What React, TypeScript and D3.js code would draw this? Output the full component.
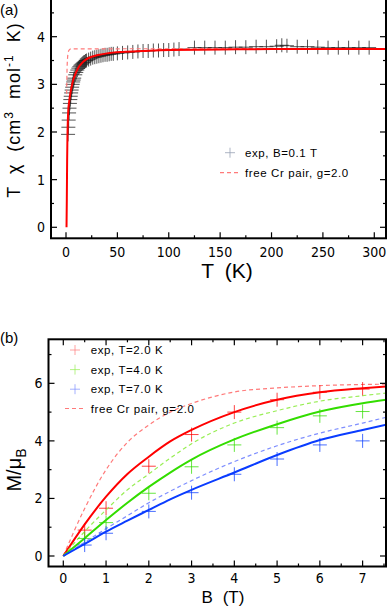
import React from "react";
import * as d3 from "d3";

// ---- panel (a): T*chi vs T ----
const expT = [2, 2.3, 2.6, 3, 3.4, 3.8, 4.2, 4.6, 5, 5.5, 6, 6.5, 7, 7.5, 8, 9, 10, 11, 12, 13, 14, 15, 16, 17, 18, 19, 20, 22, 24, 26, 28, 30, 32, 34, 36, 38, 40, 42, 44, 46, 50, 55, 60, 65, 70, 75, 80, 85, 90, 95, 100, 105, 110, 125, 135, 145, 155, 165, 175, 185, 195, 205, 210, 215, 225, 235, 245, 255, 265, 275, 285, 295];
const expChiT = [1.95, 2.1, 2.25, 2.4, 2.5, 2.6, 2.68, 2.75, 2.82, 2.88, 2.94, 3.0, 3.05, 3.09, 3.13, 3.2, 3.25, 3.3, 3.34, 3.37, 3.4, 3.42, 3.44, 3.46, 3.47, 3.49, 3.5, 3.52, 3.54, 3.56, 3.57, 3.58, 3.59, 3.6, 3.61, 3.62, 3.62, 3.63, 3.64, 3.64, 3.65, 3.66, 3.67, 3.68, 3.69, 3.7, 3.7, 3.71, 3.71, 3.72, 3.72, 3.73, 3.74, 3.77, 3.77, 3.77, 3.77, 3.78, 3.78, 3.79, 3.79, 3.8, 3.82, 3.81, 3.79, 3.79, 3.78, 3.77, 3.77, 3.77, 3.77, 3.77];
const fitT = [0.5, 0.8, 1.1, 1.4, 1.8, 2.2, 3, 4, 5, 6, 7, 8, 10, 12, 14, 17, 20, 25, 30, 40, 55, 75, 100, 150, 200, 312];
const fitChiT = [0, 0.6, 1.4, 1.9, 2.25, 2.45, 2.62, 2.78, 2.9, 3.0, 3.09, 3.15, 3.26, 3.35, 3.41, 3.48, 3.53, 3.58, 3.61, 3.65, 3.68, 3.7, 3.72, 3.73, 3.74, 3.74];
const freeT = [0.6, 1.0, 1.5, 2, 3, 5, 312];
const freeChiT = [2.8, 3.3, 3.55, 3.65, 3.72, 3.745, 3.75];

const aXTicks = [0, 50, 100, 150, 200, 250, 300];
const aXMinor = [25, 75, 125, 175, 225, 275];
const aYTicks = [0, 1, 2, 3, 4];
const aYMinor = [0.5, 1.5, 2.5, 3.5, 4.5];

// ---- panel (b): M vs B ----
const expB = [0.5, 1, 2, 3, 4, 5, 6, 7];
const expM2K = [0.9, 1.66, 3.12, 4.22, 5.0, 5.43, 5.69, 5.8];
const expM4K = [0.61, 1.16, 2.18, 3.1, 3.86, 4.46, 4.87, 5.02];
const expM7K = [0.38, 0.79, 1.55, 2.2, 2.84, 3.37, 3.86, 4.0];

const curveB = [0, 0.5, 1, 1.5, 2, 2.5, 3, 4, 5, 6, 7, 7.55];
const fitM2K = [0, 1.1, 2.06, 2.85, 3.45, 3.98, 4.38, 5.0, 5.43, 5.69, 5.83, 5.89];
const fitM4K = [0, 0.62, 1.25, 1.85, 2.4, 2.9, 3.35, 4.05, 4.58, 5.02, 5.31, 5.43];
const fitM7K = [0, 0.42, 0.85, 1.23, 1.6, 1.97, 2.3, 2.9, 3.51, 4.03, 4.38, 4.56];
const freeM2K = [0, 1.65, 3.0, 3.95, 4.55, 5.0, 5.3, 5.7, 5.84, 5.92, 5.96, 5.97];
const freeM4K = [0, 0.85, 1.6, 2.3, 2.85, 3.4, 3.9, 4.62, 5.05, 5.38, 5.57, 5.66];
const freeM7K = [0, 0.48, 0.95, 1.4, 1.85, 2.25, 2.62, 3.28, 3.83, 4.27, 4.62, 4.82];

const bXTicks = [0, 1, 2, 3, 4, 5, 6, 7];
const bXMinor = [0.5, 1.5, 2.5, 3.5, 4.5, 5.5, 6.5, 7.5];
const bYTicks = [0, 2, 4, 6];
const bYMinor = [1, 3, 5, 7];

const legendA = ["exp, B=0.1 T", "free Cr pair, g=2.0"];
const legendB = ["exp, T=2.0 K", "exp, T=4.0 K", "exp, T=7.0 K", "free Cr pair, g=2.0"];

const RED = "#ff0000";
const GREEN = "#33dd00";
const BLUE = "#0a3cff";
const RED_L = "#ff7a7a";
const GREEN_L = "#99ee55";
const BLUE_L = "#7f8fff";

const tickFont = "'Liberation Sans Narrow', 'DejaVu Sans Condensed', 'Liberation Sans', sans-serif";
const textFont = "'Liberation Sans', Arial, sans-serif";

function Plus({ x, y, s, color, opacity = 1 }: { x: number; y: number; s: number; color: string; opacity?: number }) {
  return (
    <path d={`M${x - s},${y}H${x + s}M${x},${y - s}V${y + s}`} stroke={color} strokeWidth={1} opacity={opacity} fill="none" />
  );
}

function Frame({ x, y, left, right, top, bottom, xt, xm, yt, ym, topTicks }: any) {
  return (
    <g>
      {xt.map((t: number) => (
        <g key={"xt" + t}>
          <line x1={x(t)} x2={x(t)} y1={bottom} y2={bottom - 6} stroke="#000" strokeWidth={1.2} />
          {topTicks && <line x1={x(t)} x2={x(t)} y1={top} y2={top + 6} stroke="#000" strokeWidth={1.2} />}
        </g>
      ))}
      {xm.map((t: number) => (
        <g key={"xm" + t}>
          <line x1={x(t)} x2={x(t)} y1={bottom} y2={bottom - 3} stroke="#000" strokeWidth={1.2} />
          {topTicks && <line x1={x(t)} x2={x(t)} y1={top} y2={top + 3} stroke="#000" strokeWidth={1.2} />}
        </g>
      ))}
      {yt.map((t: number) => (
        <g key={"yt" + t}>
          <line x1={left} x2={left + 6} y1={y(t)} y2={y(t)} stroke="#000" strokeWidth={1.2} />
          <line x1={right} x2={right - 6} y1={y(t)} y2={y(t)} stroke="#000" strokeWidth={1.2} />
        </g>
      ))}
      {ym.map((t: number) => (
        <g key={"ym" + t}>
          <line x1={left} x2={left + 3} y1={y(t)} y2={y(t)} stroke="#000" strokeWidth={1.2} />
          <line x1={right} x2={right - 3} y1={y(t)} y2={y(t)} stroke="#000" strokeWidth={1.2} />
        </g>
      ))}
      <rect x={left} y={top} width={right - left} height={bottom - top} fill="none" stroke="#000" strokeWidth={2} />
    </g>
  );
}

export default function App() {
  // panel a scales
  const aL = 51, aR = 386, aT = -2, aB = 238.3;
  const xa = d3.scaleLinear().domain([-14.6, 311.4]).range([aL, aR]);
  const ya = d3.scaleLinear().domain([-0.231, 4.812]).range([aB, aT]);
  const lineA = d3.line<[number, number]>().x((d) => xa(d[0])).y((d) => ya(d[1])).curve(d3.curveMonotoneX);

  // panel b scales
  const bL = 48.5, bR = 386, bT = 339.3, bB = 566.5;
  const xb = d3.scaleLinear().domain([-0.346, 7.547]).range([bL, bR]);
  const yb = d3.scaleLinear().domain([-0.365, 7.53]).range([bB, bT]);
  const lineB = d3.line<[number, number]>().x((d) => xb(d[0])).y((d) => yb(d[1])).curve(d3.curveMonotoneX);

  const zip = (a: number[], b: number[]) => a.map((v, i) => [v, b[i]] as [number, number]);

  const bSeries = [
    { exp: expM2K, fit: fitM2K, free: freeM2K, c: RED, cl: RED_L },
    { exp: expM4K, fit: fitM4K, free: freeM4K, c: GREEN, cl: GREEN_L },
    { exp: expM7K, fit: fitM7K, free: freeM7K, c: BLUE, cl: BLUE_L },
  ];

  return (
    <svg width={392} height={608} style={{ position: "absolute", left: 0, top: 0, background: "#fff" }}>
      {/* ---------- panel (a) ---------- */}
      <defs>
        <clipPath id="clipA"><rect x={aL} y={aT} width={aR - aL} height={aB - aT} /></clipPath>
        <clipPath id="clipB"><rect x={bL} y={bT} width={bR - bL} height={bB - bT} /></clipPath>
      </defs>
      <g clipPath="url(#clipA)">
        {expT.map((t, i) => (
          <Plus key={i} x={xa(t)} y={ya(expChiT[i])} s={7} color="#1a1a1a" opacity={0.75} />
        ))}
        <path d={lineA(zip(freeT, freeChiT)) || ""} fill="none" stroke={RED_L} strokeWidth={1.2} strokeDasharray="4,3" />
        <path d={lineA(zip(fitT, fitChiT)) || ""} fill="none" stroke={RED} strokeWidth={2} />
      </g>
      <Frame x={xa} y={ya} left={aL} right={aR} top={aT} bottom={aB} xt={aXTicks} xm={aXMinor} yt={aYTicks} ym={aYMinor} topTicks={false} />
      {aXTicks.map((t) => (
        <text key={t} x={xa(t)} y={256.5} textAnchor="middle" fontSize={14} fontFamily={tickFont}>{t}</text>
      ))}
      {aYTicks.map((t) => (
        <text key={t} x={45} y={ya(t) + 5} textAnchor="end" fontSize={14} fontFamily={tickFont}>{t}</text>
      ))}
      <text x={227} y={278} textAnchor="middle" fontSize={21} fontFamily={textFont} wordSpacing={5}>T (K)</text>
      <text transform="translate(20,110) rotate(-90)" textAnchor="middle" fontSize={18} fontFamily={textFont} letterSpacing={1} wordSpacing={6}>
        T χ (cm<tspan dy={-7} fontSize={12}>3</tspan><tspan dy={7}> mol</tspan><tspan dy={-7} fontSize={12}>-1</tspan><tspan dy={7}> K)</tspan>
      </text>
      <text x={0} y={15} fontSize={15} fontFamily={textFont}>(a)</text>
      {/* legend a */}
      <Plus x={230} y={152.7} s={5} color="#9aa3b5" opacity={0.8} />
      <text x={245} y={156.7} fontSize={11.5} fontFamily={textFont} letterSpacing={0.6}>{legendA[0]}</text>
      <line x1={220} x2={238} y1={172.7} y2={172.7} stroke={RED_L} strokeWidth={1.2} strokeDasharray="4,3" />
      <text x={245} y={176.7} fontSize={11.5} fontFamily={textFont} letterSpacing={0.6}>{legendA[1]}</text>

      {/* ---------- panel (b) ---------- */}
      <g clipPath="url(#clipB)">
        {bSeries.map((s, k) => (
          <g key={k}>
            <path d={lineB(zip(curveB, s.free)) || ""} fill="none" stroke={s.cl} strokeWidth={1.2} strokeDasharray="4,3" />
            <path d={lineB(zip(curveB, s.fit)) || ""} fill="none" stroke={s.c} strokeWidth={2} />
            {expB.map((b, i) => (
              <Plus key={i} x={xb(b)} y={yb(s.exp[i])} s={7} color={s.c} opacity={0.75} />
            ))}
          </g>
        ))}
      </g>
      <Frame x={xb} y={yb} left={bL} right={bR} top={bT} bottom={bB} xt={bXTicks} xm={bXMinor} yt={bYTicks} ym={bYMinor} topTicks={true} />
      {bXTicks.map((t) => (
        <text key={t} x={xb(t)} y={583} textAnchor="middle" fontSize={14} fontFamily={tickFont}>{t}</text>
      ))}
      {bYTicks.map((t) => (
        <text key={t} x={42.5} y={yb(t) + 5} textAnchor="end" fontSize={14} fontFamily={tickFont}>{t}</text>
      ))}
      <text x={223} y={603} textAnchor="middle" fontSize={17} fontFamily={textFont} wordSpacing={5}>B (T)</text>
      <text transform="translate(21,470) rotate(-90)" textAnchor="middle" fontSize={20} fontFamily={textFont}>
        M/μ<tspan dy={5} fontSize={14}>B</tspan>
      </text>
      <text x={0} y={343} fontSize={15} fontFamily={textFont}>(b)</text>
      {/* legend b */}
      {[RED_L, GREEN_L, BLUE_L].map((c, i) => (
        <g key={i}>
          <Plus x={75} y={350 + i * 19.6} s={5} color={c} opacity={0.7} />
          <text x={90.7} y={354 + i * 19.6} fontSize={11.5} fontFamily={textFont} letterSpacing={0.6}>{legendB[i]}</text>
        </g>
      ))}
      <line x1={65} x2={83} y1={408.5} y2={408.5} stroke={RED_L} strokeWidth={1.2} strokeDasharray="4,3" />
      <text x={90.7} y={412.5} fontSize={11.5} fontFamily={textFont} letterSpacing={0.6}>{legendB[3]}</text>
    </svg>
  );
}
